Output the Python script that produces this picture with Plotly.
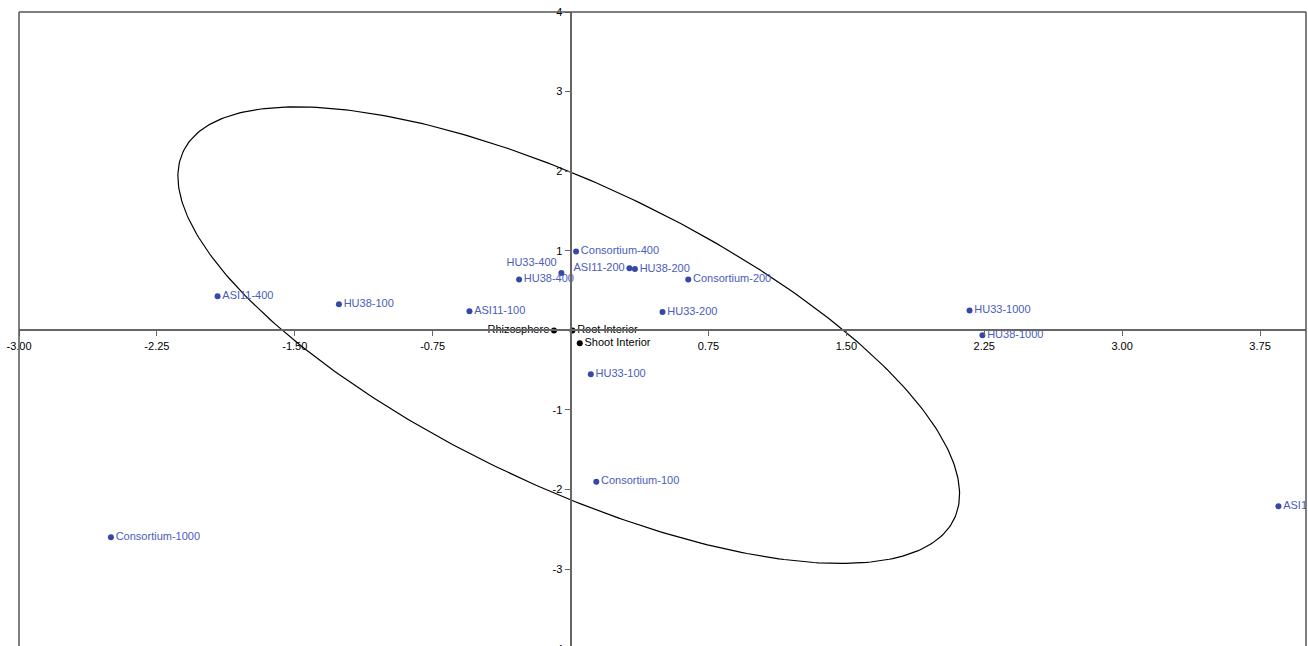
import numpy as np
import plotly.graph_objects as go

# ---- data ----
treat_labels = ["ASI11-400", "HU38-100", "ASI11-100", "HU38-400", "HU33-400",
                "Consortium-400", "ASI11-200", "HU38-200", "Consortium-200",
                "HU33-200", "HU33-1000", "HU38-1000", "HU33-100",
                "Consortium-100", "Consortium-1000", "ASI11-1000"]
treat_x = [-1.92, -1.26, -0.55, -0.28, -0.05, 0.03, 0.32, 0.35, 0.64,
           0.50, 2.17, 2.24, 0.11, 0.14, -2.50, 3.85]
treat_y = [0.43, 0.33, 0.24, 0.64, 0.72, 0.99, 0.78, 0.77, 0.64,
           0.23, 0.25, -0.06, -0.55, -1.90, -2.60, -2.21]

comp_labels = ["Rhizosphere", "Root Interior", "Shoot Interior"]
comp_x = [-0.09, 0.01, 0.05]
comp_y = [0.00, 0.00, -0.16]

x_ticks = [-3.00, -2.25, -1.50, -0.75, 0.75, 1.50, 2.25, 3.00, 3.75]
y_ticks = [-3, -2, -1, 1, 2, 3, 4]

# ellipse parameters (data units)
ell_cx, ell_cy = -0.01, -0.06
ell_a, ell_b = 3.317, 1.320
ell_angle_deg = -56.8

# ---- label placement ----
treat_pos = ["middle right"] * len(treat_labels)
treat_pos[treat_labels.index("HU33-400")] = "top left"
treat_pos[treat_labels.index("ASI11-200")] = "middle left"
comp_pos = ["middle left", "middle right", "middle right"]

XR = [-3.0, 4.0]
YR = [-3.965, 4.0]
FONT = "Liberation Sans, Arial, sans-serif"

fig = go.Figure()

# ellipse
t = np.linspace(0, 2 * np.pi, 400)
th = np.deg2rad(ell_angle_deg)
ex = ell_cx + ell_a * np.cos(t) * np.cos(th) - ell_b * np.sin(t) * np.sin(th)
ey = ell_cy + ell_a * np.cos(t) * np.sin(th) + ell_b * np.sin(t) * np.cos(th)
fig.add_trace(go.Scatter(x=ex, y=ey, mode="lines",
                         line=dict(color="black", width=1.2),
                         hoverinfo="skip", showlegend=False))

fig.add_trace(go.Scatter(x=treat_x, y=treat_y, mode="markers+text",
                         text=treat_labels, textposition=treat_pos,
                         textfont=dict(family=FONT, size=11, color="#4a5cbc"),
                         marker=dict(color="#3548a8", size=6),
                         showlegend=False))

fig.add_trace(go.Scatter(x=comp_x, y=comp_y, mode="markers+text",
                         text=comp_labels, textposition=comp_pos,
                         textfont=dict(family=FONT, size=11, color="black"),
                         marker=dict(color="black", size=6),
                         showlegend=False))

xpos = (0 - YR[0]) / (YR[1] - YR[0])
ypos = (0 - XR[0]) / (XR[1] - XR[0])

fig.update_layout(
    width=1308, height=646,
    margin=dict(l=19, r=2, t=12, b=0, autoexpand=False),
    plot_bgcolor="white", paper_bgcolor="white",
    font=dict(family=FONT, size=11, color="black"),
    xaxis=dict(range=XR, anchor="free", position=xpos, showline=True,
               linecolor="#666666", linewidth=2, showgrid=False, zeroline=False,
               ticks="outside", ticklen=5, tickcolor="#666666",
               ticklabeloverflow="allow", automargin=False,
               tickvals=x_ticks, ticktext=[f"{v:.2f}" for v in x_ticks]),
    yaxis=dict(range=YR, anchor="free", position=ypos, showline=True,
               linecolor="#666666", linewidth=2, showgrid=False, zeroline=False,
               ticks="outside", ticklen=5, tickcolor="#666666",
               ticklabeloverflow="allow", automargin=False,
               tickvals=y_ticks, ticktext=[str(v) for v in y_ticks]),
    shapes=[
        dict(type="line", xref="paper", yref="paper", x0=0, x1=1, y0=1, y1=1,
             line=dict(color="#555555", width=1.5)),
        dict(type="line", xref="paper", yref="paper", x0=0, x1=0, y0=0, y1=1,
             line=dict(color="#555555", width=1.5)),
        dict(type="line", xref="paper", yref="paper", x0=1, x1=1, y0=0, y1=1,
             line=dict(color="#555555", width=1.5)),
    ],
    annotations=[dict(xref="paper", yref="paper", x=ypos, y=-0.005, text="-4",
                      showarrow=False, xanchor="right", yanchor="middle",
                      xshift=-6, font=dict(size=11, family=FONT))],
)

fig.write_html("out.html", config={"displayModeBar": False},
               post_script="document.body.style.margin='0';document.body.style.overflow='hidden';")
